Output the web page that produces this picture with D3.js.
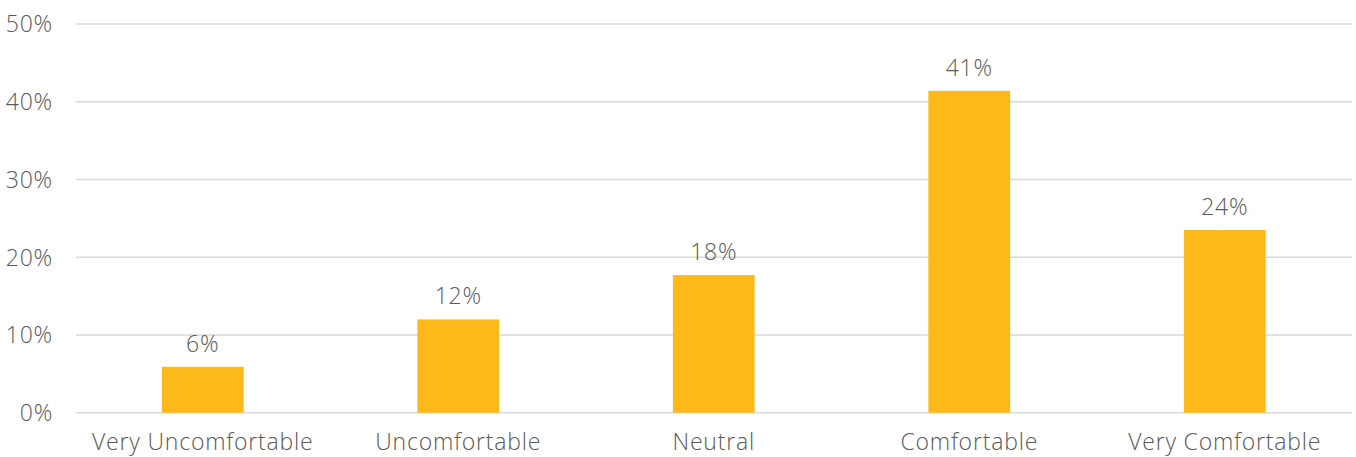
<!DOCTYPE html>
<html><head><meta charset="utf-8">
<script src="https://cdn.jsdelivr.net/npm/d3@7"></script>
<style>
html,body{margin:0;padding:0;background:#fff;}
text{font-family:"Open Sans",sans-serif;font-weight:300;fill:#595959;letter-spacing:0.8px;}
</style></head>
<body>
<svg id="c" width="1356" height="457"></svg>
<script>
const categories = ["Very Uncomfortable","Uncomfortable","Neutral","Comfortable","Very Comfortable"];
const values = [0.059, 0.12, 0.177, 0.414, 0.235];
const valueLabels = ["6%","12%","18%","41%","24%"];
const yTicks = [0,0.1,0.2,0.3,0.4,0.5];

const svg = d3.select("#c");
const x = d3.scaleBand().domain(categories).range([75,1352.5]).paddingInner(0.68).paddingOuter(0.34);
const y = d3.scaleLinear().domain([0,0.5]).range([412.7,24]);

svg.append("g").selectAll("line").data(yTicks).join("line")
  .attr("x1",76).attr("x2",1352)
  .attr("y1",d=>y(d)).attr("y2",d=>y(d))
  .attr("stroke","#d9d9d9").attr("stroke-width",1.5);

svg.append("g").selectAll("text").data(yTicks).join("text")
  .attr("x",53).attr("y",d=>y(d)).attr("dy","0.36em")
  .attr("text-anchor","end").attr("font-size",23)
  .text(d=>d3.format(".0%")(d));

svg.append("g").selectAll("rect").data(values).join("rect")
  .attr("x",(d,i)=>x(categories[i])).attr("width",x.bandwidth())
  .attr("y",d=>y(d)).attr("height",d=>y(0)-y(d))
  .attr("fill","#fdb81a");

svg.append("g").selectAll("text").data(values).join("text")
  .attr("x",(d,i)=>x(categories[i])+x.bandwidth()/2)
  .attr("y",d=>y(d)-15)
  .attr("text-anchor","middle").attr("font-size",23)
  .text((d,i)=>valueLabels[i]);

svg.append("g").selectAll("text").data(categories).join("text")
  .attr("x",d=>x(d)+x.bandwidth()/2).attr("y",450)
  .attr("text-anchor","middle").attr("font-size",23)
  .text(d=>d);
</script>
</body></html>
